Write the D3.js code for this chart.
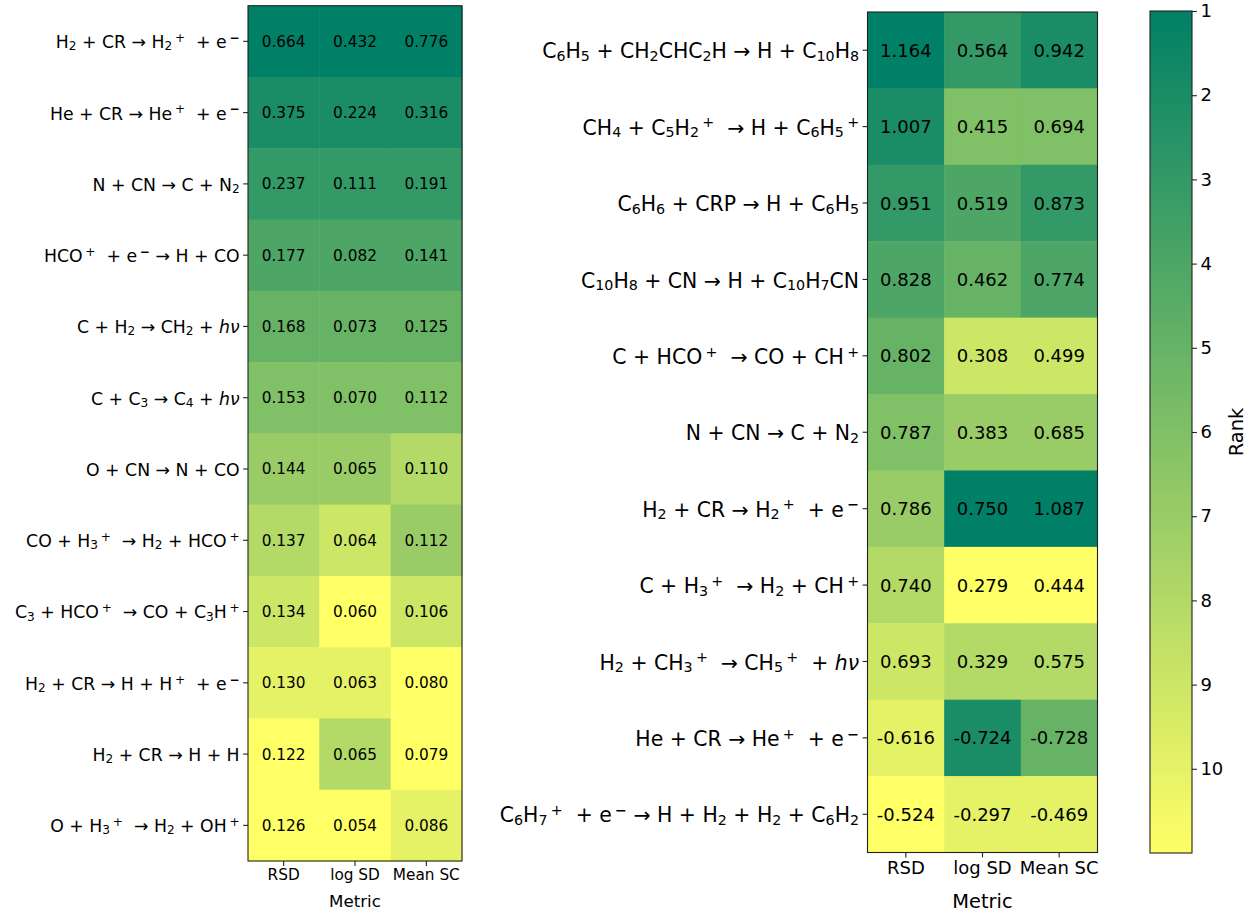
<!DOCTYPE html>
<html><head><meta charset="utf-8">
<script src="https://cdn.jsdelivr.net/npm/d3@7"></script>
<style>
body{margin:0;background:#fff}
text{font-family:"DejaVu Sans",sans-serif;white-space:pre;fill:#000}
</style></head>
<body><svg id="c" width="1255" height="915"></svg>
<script>
// ---------- data ----------
const metrics = ["RSD", "log SD", "Mean SC"];

const leftReactions = [
  "H_{2} + CR → H_{2}^{+}  + e^{−}",
  "He + CR → He^{+}  + e^{−}",
  "N + CN → C + N_{2}",
  "HCO^{+}  + e^{−} → H + CO",
  "C + H_{2} → CH_{2} + ~{hν}",
  "C + C_{3} → C_{4} + ~{hν}",
  "O + CN → N + CO",
  "CO + H_{3}^{+}  → H_{2} + HCO^{+}",
  "C_{3} + HCO^{+}  → CO + C_{3}H^{+}",
  "H_{2} + CR → H + H^{+}  + e^{−}",
  "H_{2} + CR → H + H",
  "O + H_{3}^{+}  → H_{2} + OH^{+}"
];
const leftRSD    = [0.664, 0.375, 0.237, 0.177, 0.168, 0.153, 0.144, 0.137, 0.134, 0.130, 0.122, 0.126];
const leftLogSD  = [0.432, 0.224, 0.111, 0.082, 0.073, 0.070, 0.065, 0.064, 0.060, 0.063, 0.065, 0.054];
const leftMeanSC = [0.776, 0.316, 0.191, 0.141, 0.125, 0.112, 0.110, 0.112, 0.106, 0.080, 0.079, 0.086];

const rightReactions = [
  "C_{6}H_{5} + CH_{2}CHC_{2}H → H + C_{10}H_{8}",
  "CH_{4} + C_{5}H_{2}^{+}  → H + C_{6}H_{5}^{+}",
  "C_{6}H_{6} + CRP → H + C_{6}H_{5}",
  "C_{10}H_{8} + CN → H + C_{10}H_{7}CN",
  "C + HCO^{+}  → CO + CH^{+}",
  "N + CN → C + N_{2}",
  "H_{2} + CR → H_{2}^{+}  + e^{−}",
  "C + H_{3}^{+}  → H_{2} + CH^{+}",
  "H_{2} + CH_{3}^{+}  → CH_{5}^{+}  + ~{hν}",
  "He + CR → He^{+}  + e^{−}",
  "C_{6}H_{7}^{+}  + e^{−} → H + H_{2} + H_{2} + C_{6}H_{2}"
];
const rightRSD    = [1.164, 1.007, 0.951, 0.828, 0.802, 0.787, 0.786, 0.740, 0.693, -0.616, -0.524];
const rightLogSD  = [0.564, 0.415, 0.519, 0.462, 0.308, 0.383, 0.750, 0.279, 0.329, -0.724, -0.297];
const rightMeanSC = [0.942, 0.694, 0.873, 0.774, 0.499, 0.685, 1.087, 0.444, 0.575, -0.728, -0.469];

const rankTicks = [1, 2, 3, 4, 5, 6, 7, 8, 9, 10];
const rankDomain = [1, 11];

// ---------- helpers ----------
const svg = d3.select("#c");
svg.append("rect").attr("width", 1255).attr("height", 915).attr("fill", "#fff");

const color = d3.scaleLinear().domain(rankDomain).range(["#008066", "#ffff66"]).clamp(true);

function ranksOf(vals) {
  const idx = d3.range(vals.length).sort((a, b) => Math.abs(vals[b]) - Math.abs(vals[a]) || a - b);
  const r = new Array(vals.length);
  idx.forEach((i, k) => r[i] = k + 1);
  return r;
}

function rich(t, s, fs) {
  t.text(null).attr("dy", null).attr("font-size", fs);
  const parts = s.split(/(_\{[^}]*\}|\^\{[^}]*\}|~\{[^}]*\})/).filter(p => p.length);
  let cur = 0, first = true;
  const base = 0.4 * fs;
  parts.forEach(p => {
    let kind = "n", txt = p;
    if (p.startsWith("_{")) { kind = "sub"; txt = p.slice(2, -1); }
    else if (p.startsWith("^{")) { kind = "sup"; txt = p.slice(2, -1); }
    else if (p.startsWith("~{")) { kind = "it"; txt = p.slice(2, -1); }
    const target = kind === "sub" ? 0.12 * fs : kind === "sup" ? -0.36 * fs : 0;
    const small = kind === "sub" || kind === "sup";
    const ts = t.append("tspan").text(txt).attr("font-size", small ? 0.7 * fs : fs);
    ts.attr("dy", (target - cur) + (first ? base : 0));
    if (kind === "sup") ts.attr("dx", 0.16 * fs);
    if (kind === "it") ts.attr("font-style", "italic");
    if (kind === "sup" && txt === "−") ts.attr("font-weight", "bold");
    cur = target; first = false;
  });
}

function panel(cfg) {
  const n = cfg.reactions.length;
  const cols = [cfg.rsd, cfg.logsd, cfg.meansc];
  const ranks = cols.map(ranksOf);
  const x = d3.scaleBand().domain(metrics).range([cfg.x0, cfg.x1]);
  const y = d3.scaleBand().domain(d3.range(n)).range([cfg.y0, cfg.y1]);
  const g = svg.append("g");
  const cells = [];
  metrics.forEach((m, j) => cols[j].forEach((v, i) => cells.push({m, i, v, r: ranks[j][i]})));
  g.selectAll("rect.cell").data(cells).join("rect")
    .attr("x", d => x(d.m)).attr("y", d => y(d.i))
    .attr("width", x.bandwidth() + 0.5).attr("height", y.bandwidth() + 0.5)
    .attr("fill", d => color(d.r));
  g.selectAll("text.val").data(cells).join("text")
    .attr("x", d => x(d.m) + x.bandwidth() / 2)
    .attr("y", d => y(d.i) + y.bandwidth() / 2)
    .attr("dy", "0.36em").attr("text-anchor", "middle")
    .attr("font-size", cfg.fs)
    .text(d => d.v.toFixed(3));
  g.append("rect").attr("x", cfg.x0).attr("y", cfg.y0)
    .attr("width", cfg.x1 - cfg.x0).attr("height", cfg.y1 - cfg.y0)
    .attr("fill", "none").attr("stroke", "#222").attr("stroke-width", 1.1);
  // y axis
  const ya = g.append("g").attr("transform", `translate(${cfg.x0},0)`)
    .call(d3.axisLeft(y).tickSize(4.9).tickPadding(3.5).tickFormat(() => ""));
  ya.select(".domain").remove();
  ya.selectAll(".tick line").attr("stroke", "#222").attr("stroke-width", 1.1);
  ya.selectAll(".tick text").each(function (d) {
    const t = d3.select(this).attr("fill", "#000").attr("font-family", "DejaVu Sans");
    rich(t, cfg.reactions[d], cfg.yfs);
  });
  // x axis
  const xa = g.append("g").attr("transform", `translate(0,${cfg.y1})`)
    .call(d3.axisBottom(x).tickSize(4.9).tickPadding(3.5));
  xa.select(".domain").remove();
  xa.selectAll(".tick line").attr("stroke", "#222").attr("stroke-width", 1.1);
  xa.selectAll(".tick text").attr("font-size", cfg.xfs).attr("font-family", "DejaVu Sans").attr("fill", "#000");
  g.append("text").attr("x", (cfg.x0 + cfg.x1) / 2).attr("y", cfg.metricY)
    .attr("text-anchor", "middle").attr("font-size", cfg.lfs).text("Metric");
}

panel({reactions: leftReactions, rsd: leftRSD, logsd: leftLogSD, meansc: leftMeanSC,
  x0: 248, x1: 462, y0: 5.7, y1: 861, fs: 15.3, yfs: 17.3, xfs: 15.3, lfs: 16.7, metricY: 907});
panel({reactions: rightReactions, rsd: rightRSD, logsd: rightLogSD, meansc: rightMeanSC,
  x0: 867.5, x1: 1097.5, y0: 12, y1: 852.5, fs: 18, yfs: 20.4, xfs: 18, lfs: 19.4, metricY: 908});

// ---------- colorbar ----------
const cbX = 1150, cbW = 42, cbY0 = 11, cbY1 = 853;
const cy = d3.scaleLinear().domain(rankDomain).range([cbY0, cbY1]);
const defs = svg.append("defs");
const grad = defs.append("linearGradient").attr("id", "cbg")
  .attr("x1", 0).attr("x2", 0).attr("y1", 0).attr("y2", 1);
d3.range(0, 1.0001, 0.1).forEach(t => {
  grad.append("stop").attr("offset", t).attr("stop-color", color(rankDomain[0] + t * (rankDomain[1] - rankDomain[0])));
});
svg.append("rect").attr("x", cbX).attr("y", cbY0).attr("width", cbW).attr("height", cbY1 - cbY0)
  .attr("fill", "url(#cbg)").attr("stroke", "#222").attr("stroke-width", 1.1);
const ca = svg.append("g").attr("transform", `translate(${cbX + cbW},0)`)
  .call(d3.axisRight(cy).tickValues(rankTicks).tickSize(4.9).tickPadding(3.5));
ca.select(".domain").remove();
ca.selectAll(".tick line").attr("stroke", "#222").attr("stroke-width", 1.1);
ca.selectAll(".tick text").attr("font-size", 18).attr("font-family", "DejaVu Sans").attr("fill", "#000");
svg.append("text").attr("transform", "translate(1243,432) rotate(-90)")
  .attr("text-anchor", "middle").attr("font-size", 19.4).text("Rank");
</script></body></html>
